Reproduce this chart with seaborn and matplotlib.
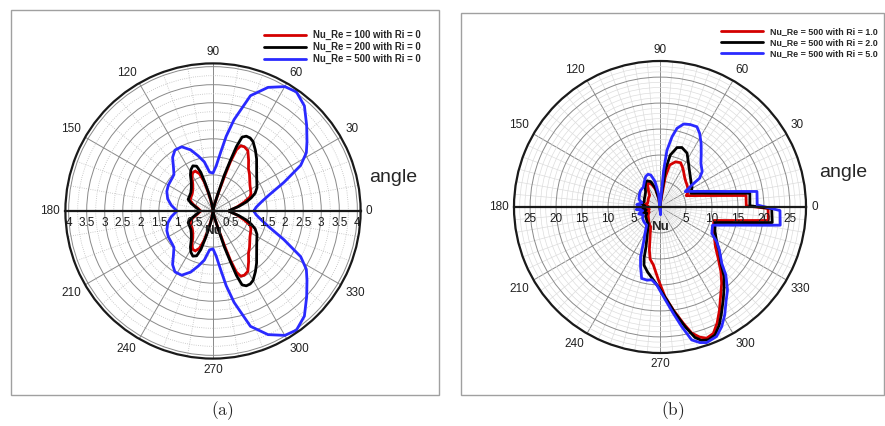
import numpy as np
import matplotlib
matplotlib.use("Agg")
import matplotlib.pyplot as plt
from matplotlib.patches import Rectangle
from matplotlib.ticker import MultipleLocator, FixedLocator, FuncFormatter
import seaborn as sns

sns.set_theme(style="white")
plt.rcParams["font.family"] = ["Liberation Sans", "DejaVu Sans"]
plt.rcParams["mathtext.fontset"] = "cm"

# ---------------- panel (a): Ri = 0, three Reynolds numbers ----------------
re100_angle = [0, 3, 10, 16, 21, 25, 30, 35, 40, 45, 50, 55, 60, 64, 67, 69, 70.5, 71.5, 73, 76, 82, 90,
               98, 102, 104.5, 107, 110, 114, 118, 122, 127, 133, 140, 148, 155, 162, 170, 180,
               190, 198, 205, 212, 220, 227, 233, 238, 242, 246, 250, 253, 255.5, 258, 262, 270,
               278, 284, 287, 288.5, 289.5, 291, 293, 296, 300, 305, 310, 315, 320, 325, 330, 335, 339, 344, 350, 357, 360]
re100_nu = [0.45, 0.5, 0.69, 0.9, 1.1, 1.16, 1.2, 1.25, 1.33, 1.43, 1.53, 1.72, 1.93, 1.98, 1.96, 1.82, 1.45, 1.05, 0.6, 0.25, 0.08, 0.03,
            0.1, 0.3, 0.55, 0.86, 1.1, 1.21, 1.2, 1.1, 0.93, 0.82, 0.75, 0.72, 0.7, 0.57, 0.42, 0.34,
            0.42, 0.57, 0.7, 0.72, 0.75, 0.82, 0.93, 1.1, 1.2, 1.21, 1.1, 0.86, 0.55, 0.3, 0.1, 0.03,
            0.08, 0.25, 0.6, 1.05, 1.45, 1.82, 1.96, 1.98, 1.93, 1.72, 1.53, 1.43, 1.33, 1.25, 1.2, 1.16, 1.1, 0.9, 0.69, 0.5, 0.45]

re200_angle = [0, 4, 10, 15, 19, 23, 28, 35, 40, 45, 50, 55, 60, 63, 66, 68.5, 70, 71, 72.5, 74, 77, 82, 90,
               98, 101, 103.5, 105.5, 107.5, 110, 114, 118, 122, 127, 133, 140, 148, 155, 161, 170, 180,
               190, 199, 205, 212, 220, 227, 233, 238, 242, 246, 250, 252.5, 254.5, 256.5, 259, 262, 270,
               278, 283, 286, 287.5, 289, 290, 291.5, 294, 297, 300, 305, 310, 315, 320, 325, 332, 337, 341, 345, 350, 356, 360]
re200_nu = [0.44, 0.5, 0.72, 0.95, 1.12, 1.27, 1.38, 1.48, 1.58, 1.71, 1.88, 2.05, 2.22, 2.27, 2.27, 2.2, 1.9, 1.5, 1.04, 0.5, 0.2, 0.06, 0.03,
            0.1, 0.3, 0.5, 0.78, 1.12, 1.32, 1.37, 1.3, 1.18, 1.0, 0.88, 0.8, 0.77, 0.76, 0.64, 0.45, 0.36,
            0.45, 0.64, 0.76, 0.77, 0.8, 0.88, 1.0, 1.18, 1.3, 1.37, 1.32, 1.12, 0.78, 0.5, 0.3, 0.1, 0.03,
            0.06, 0.2, 0.5, 1.04, 1.5, 1.9, 2.2, 2.27, 2.27, 2.22, 2.05, 1.88, 1.71, 1.58, 1.48, 1.38, 1.27, 1.12, 0.95, 0.72, 0.5, 0.44]

re500_angle = [0, 5, 11, 16, 22, 27.5, 32, 36.5, 42.5, 49, 55, 60, 66, 72, 77, 80, 82.5, 86, 90,
               95, 100, 105, 110, 116, 122, 127, 132.5, 137, 142, 150, 157, 165, 172, 180,
               188, 195, 203, 210, 218, 223, 227.5, 233, 238, 244, 250, 255, 260, 265,
               270, 274, 277.5, 280, 283, 288, 294, 300, 305, 311, 317.5, 323.5, 328, 332.5, 338, 344, 349, 355, 360]
re500_nu = [1.13, 1.2, 1.38, 1.62, 2.12, 2.74, 3.05, 3.24, 3.52, 3.86, 4.03, 3.98, 3.75, 3.36, 2.6, 2.1, 1.65, 1.25, 1.05,
            1.08, 1.38, 1.58, 1.8, 1.98, 1.99, 1.86, 1.62, 1.48, 1.45, 1.43, 1.39, 1.3, 1.17, 1.0,
            1.17, 1.3, 1.39, 1.43, 1.45, 1.48, 1.62, 1.86, 1.99, 1.98, 1.8, 1.58, 1.38, 1.08,
            1.05, 1.25, 1.65, 2.1, 2.6, 3.36, 3.75, 3.98, 4.03, 3.86, 3.52, 3.24, 3.05, 2.74, 2.12, 1.62, 1.38, 1.2, 1.13]

# ---------------- panel (b): Re = 500, three Richardson numbers ----------------
ri1_angle = [-180, -174, -168, -162, -155, -147, -138, -128, -120, -115.4, -108.6, -103.9, -100.8, -96.6, -91.3, -86.8,
             -82.6, -78.7, -75.9, -73, -70.4, -67.1, -63.8, -60, -55.9, -51.1, -46.7, -41.3, -35.5, -28.6, -21.8,
             -14, -12, -10, -7.1, -0.8, 0.8, 7.6, 10, 12, 15, 18, 21, 23.5, 27, 31, 35, 39, 45, 51, 55, 59, 65,
             71, 77, 80, 81, 84, -85, 98, 104, 110, 115, 119, 125, 132, 142, 152, 162, 170, 176, 180]
ri1_nu = [2.2, 2.9, 2.1, 2.8, 2.3, 2.7, 3.0, 3.5, 4.0, 4.2, 6.0, 8.5, 10.2, 11.2, 14.0, 17.3,
          20.0, 22.8, 25.0, 26.2, 26.8, 26.4, 24.9, 22.9, 20.8, 18.9, 17.1, 14.9, 13.1, 11.9, 11.0,
          10.7, 12.5, 15.0, 21.0, 20.8, 16.6, 16.7, 12.7, 10.6, 8.5, 7.1, 6.1, 5.5, 6.0, 6.4, 6.5, 6.7, 7.0, 7.5, 8.0, 8.6, 9.4,
          9.2, 8.3, 5.9, 2.7, 0.6, 0.8, 1.5, 3.5, 4.6, 5.1, 4.9, 3.9, 3.0, 2.8, 2.6, 2.5, 2.9, 2.3, 2.2]

ri2_angle = [-180, -174, -168, -162, -155, -147, -138, -130, -125.5, -115.7, -109.4, -107.3, -105.4, -101, -95.2, -90.5,
             -85.9, -82, -78.2, -75, -72.7, -70, -66.7, -63.3, -59.9, -55.7, -51.7, -47.4, -42.7, -37, -31.5, -24.2,
             -15.8, -12, -10, -7.9, -0.8, 0.8, 8.7, 10, 12, 15, 18, 21, 24, 28, 32.4, 38, 45, 51, 56.7, 63.3, 69.8,
             74, 78.8, 81.8, 82.5, 85, -85, 98, 104, 110, 116, 121, 127, 134, 143, 152, 162, 170, 176, 180]
ri2_nu = [2.9, 3.7, 2.7, 3.5, 2.8, 3.3, 3.5, 3.8, 3.9, 5.6, 8.1, 10.3, 11.6, 12.7, 14.1, 15.6,
          17.9, 20.6, 23.5, 26.0, 26.9, 27.2, 26.8, 25.4, 23.6, 21.6, 19.9, 18.2, 16.0, 14.3, 12.8, 11.6,
          11.0, 14.4, 17.3, 21.8, 21.5, 17.3, 17.5, 15.3, 12.7, 10.2, 8.6, 7.4, 6.5, 6.9, 7.3, 7.6, 8.25, 9.0, 10.0, 11.6, 12.2,
          11.9, 10.2, 7.2, 3.3, 0.6, 1.0, 1.6, 3.8, 5.2, 5.6, 5.4, 4.7, 4.0, 3.6, 3.4, 3.2, 3.7, 2.9, 2.9]

ri5_angle = [-180, -174, -168, -162, -155, -147, -138, -130, -126.5, -119.7, -114.6, -111.3, -108, -104.4, -100, -96.5,
             -92.4, -87.9, -82.9, -79.7, -76.6, -73.6, -71, -66.4, -62.7, -59, -55.1, -50.9, -45.9, -42.4, -35.9,
             -31.5, -27, -19.1, -15, -12, -10, -8.6, -1.7, 1.2, 9.1, 11, 13, 16, 20, 25, 29, 31.5, 35, 36, 40,
             46.8, 52.4, 57.2, 61.7, 65.3, 69.9, 74.1, 77.8, 80.3, 83, 84.3, 84.4, 86, -86, 96, 101, 106, 110, 115,
             121, 130, 140, 150, 160, 167, 174, 180]
ri5_nu = [3.6, 4.6, 3.4, 4.3, 3.6, 4.0, 4.2, 4.3, 4.3, 5.8, 7.7, 10.3, 12.1, 14.2, 14.3, 14.1,
          15.0, 17.2, 20.6, 23.4, 26.3, 27.2, 27.6, 27.2, 25.9, 24.2, 22.2, 20.6, 18.2, 16.1, 14.1,
          12.8, 11.2, 10.7, 13.5, 16.8, 20.2, 23.4, 23.1, 18.7, 18.9, 15.7, 13.3, 10.9, 8.8, 7.1, 6.2, 5.7, 7.9, 9.4, 10.6,
          11.5, 13.0, 14.6, 16.1, 17.0, 16.9, 16.6, 15.5, 13.7, 11.0, 7.1, 3.3, 0.5, 1.5, 2.5, 5.0, 6.4, 6.7, 6.5,
          5.8, 5.0, 4.9, 4.6, 4.3, 3.6, 4.5, 3.6]

angle_ticks = list(range(0, 360, 30))
labels_a = ["Nu_Re = 100 with Ri = 0", "Nu_Re = 200 with Ri = 0", "Nu_Re = 500 with Ri = 0"]
labels_b = ["Nu_Re = 500 with Ri = 1.0", "Nu_Re = 500 with Ri = 2.0", "Nu_Re = 500 with Ri = 5.0"]
colors = ["#d40000", "#000000", "#2a2aff"]

W, H = 885, 426
fig = plt.figure(figsize=(W / 100, H / 100), dpi=100)
fig.patch.set_facecolor("white")


def frac_rect(cx, cy, rad):
    return [(cx - rad) / W, (H - cy - rad) / H, 2 * rad / W, 2 * rad / H]


def panel(cx, cy, rad, rmax, series, labels, rstep, rminor, thminor, rtick_minor,
          minor_style, legend_xy, legend_size, angle_xy, caption, caption_x):
    ax = fig.add_axes(frac_rect(cx, cy, rad), projection="polar")
    ax.set_facecolor("white")
    ax.set_ylim(0, rmax)

    # grid
    ax.set_xticks(np.deg2rad(angle_ticks))
    ax.set_xticklabels([])
    ax.set_yticks(np.arange(rstep, rmax, rstep))
    ax.set_yticklabels([])
    ax.xaxis.set_minor_locator(FixedLocator(np.deg2rad(np.arange(0, 360, thminor))))
    ax.yaxis.set_minor_locator(MultipleLocator(rminor))
    ax.grid(True, which="major", color="#8a8a8a", lw=0.7, ls="-")
    ax.grid(True, which="minor", **minor_style)
    ax.tick_params(axis="x", which="major", direction="in", length=6, width=1.2, color="k", pad=0)
    ax.tick_params(axis="x", which="minor", direction="in", length=3, width=0.8, color="k")
    ax.tick_params(axis="y", which="both", length=0)
    ax.spines["polar"].set_linewidth(1.6)
    ax.spines["polar"].set_color("k")

    for (ang, nu), col, lab in zip(series, colors, labels):
        sns.lineplot(x=np.deg2rad(ang), y=nu, ax=ax, sort=False, estimator=None,
                     color=col, lw=2.0, label=lab, legend=False)
    ax.set_xlabel("")
    ax.set_ylabel("")

    # angle labels just outside the rim
    for a in angle_ticks:
        c, s = np.cos(np.deg2rad(a)), np.sin(np.deg2rad(a))
        ha = "left" if c > 0.3 else ("right" if c < -0.3 else "center")
        va = "bottom" if s > 0.3 else ("top" if s < -0.3 else "center")
        ax.text(np.deg2rad(a), rmax * 1.035, str(a), ha=ha, va=va, fontsize=8.5,
                color="#222222", clip_on=False)

    fs_px = legend_size * 100 / 72
    handles = ax.get_lines()
    ax.legend(handles, labels, loc="upper left", bbox_to_anchor=legend_xy,
              bbox_transform=fig.transFigure, frameon=False, borderpad=0, borderaxespad=0,
              handlelength=42 / fs_px, handletextpad=7 / fs_px, labelspacing=0.2,
              prop={"weight": "bold", "size": legend_size})

    # radial Nu axis drawn along the horizontal diameter
    hx = fig.add_axes(frac_rect(cx, cy, rad))
    hx.set_xlim(-rmax, rmax)
    hx.set_ylim(-rmax, rmax)
    hx.patch.set_alpha(0)
    for side in ("left", "right", "top"):
        hx.spines[side].set_visible(False)
    hx.spines["bottom"].set_position(("data", 0))
    hx.spines["bottom"].set_linewidth(1.6)
    hx.spines["bottom"].set_color("k")
    hx.set_yticks([])
    pos = np.arange(rstep, rmax, rstep)
    hx.xaxis.set_major_locator(FixedLocator(np.concatenate([-pos[::-1], pos])))
    hx.xaxis.set_major_formatter(FuncFormatter(lambda v, p: f"{abs(v):g}"))
    hx.xaxis.set_minor_locator(MultipleLocator(rtick_minor))
    hx.tick_params(axis="x", which="major", direction="inout", length=7, width=1.0,
                   labelsize=8.5, pad=0.5, colors="k")
    hx.tick_params(axis="x", which="minor", direction="inout", length=4, width=0.8, color="k")
    hx.text(0, -rmax * 0.135, "Nu", ha="center", va="center", fontsize=9.5, weight="bold")

    fig.text(angle_xy[0] / W, 1 - angle_xy[1] / H, "angle", ha="center", va="center", fontsize=14)
    fig.text(caption_x / W, 1 - 411 / H, caption, ha="center", va="center", fontsize=12.5)
    return ax


# panel frames
fig.patches.append(Rectangle((11 / W, 1 - 395 / H), 428 / W, 385 / H, transform=fig.transFigure,
                             fill=False, ec="#a0a0a0", lw=1.0))
fig.patches.append(Rectangle((461 / W, 1 - 395 / H), 423 / W, 382 / H, transform=fig.transFigure,
                             fill=False, ec="#a0a0a0", lw=1.0))

panel(213, 211, 147.6, 4.09,
      [(re100_angle, re100_nu), (re200_angle, re200_nu), (re500_angle, re500_nu)], labels_a,
      rstep=0.5, rminor=0.25, thminor=10, rtick_minor=0.1,
      minor_style=dict(color="#bdbdbd", lw=0.6, ls=":"),
      legend_xy=(264 / W, 1 - 30 / H), legend_size=6.9, angle_xy=(393, 177),
      caption=r"$\mathrm{(a)}$", caption_x=222)

panel(660, 207, 146, 28.1,
      [(ri1_angle, ri1_nu), (ri2_angle, ri2_nu), (ri5_angle, ri5_nu)], labels_b,
      rstep=5, rminor=1, thminor=5, rtick_minor=1,
      minor_style=dict(color="#dddddd", lw=0.5, ls="-"),
      legend_xy=(721 / W, 1 - 27.5 / H), legend_size=6.4, angle_xy=(843, 172),
      caption=r"$\mathrm{(b)}$", caption_x=673)

fig.savefig("out.png", dpi=100, facecolor="white")
